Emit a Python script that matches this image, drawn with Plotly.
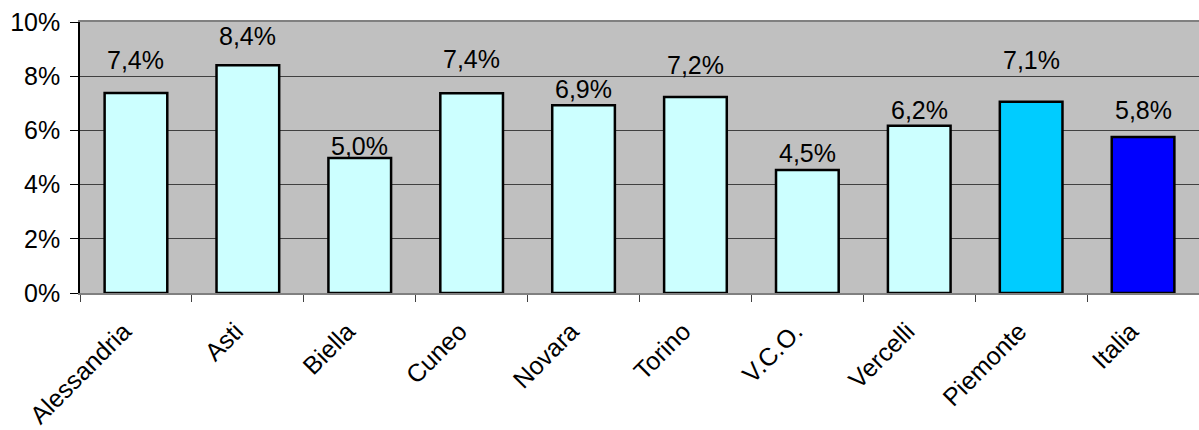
import plotly.graph_objects as go

categories = ["Alessandria", "Asti", "Biella", "Cuneo", "Novara", "Torino",
              "V.C.O.", "Vercelli", "Piemonte", "Italia"]
values = [7.38, 8.40, 4.98, 7.37, 6.93, 7.23, 4.54, 6.17, 7.06, 5.76]
bar_colors = ["#CCFFFF"] * 8 + ["#00CCFF", "#0000FF"]
# per-label vertical offset above bar top (pixels), as in the reference
label_shift = [33, 29, 12, 34, 16, 32, 17, 16, 42, 27]
y_ticks = [0, 2, 4, 6, 8, 10]

FONT = "Liberation Sans, Arial, sans-serif"

fig = go.Figure()
fig.add_trace(go.Bar(
    x=categories, y=values,
    marker=dict(color=bar_colors, line=dict(color="black", width=2.5)),
    width=0.56,
    hoverinfo="skip",
))

for c, v, s in zip(categories, values, label_shift):
    fig.add_annotation(
        x=c, y=v, yshift=s, yanchor="middle",
        text=f"{v:.1f}%".replace(".", ","),
        showarrow=False,
        font=dict(family=FONT, size=25, color="black"),
    )

fig.update_layout(
    width=1199, height=430,
    margin=dict(l=80, r=0, t=22, b=137),
    paper_bgcolor="white",
    plot_bgcolor="#C0C0C0",
    showlegend=False,
    font=dict(family=FONT, size=25, color="black"),
)
fig.update_xaxes(
    automargin=False,
    showline=True, linecolor="#808080", linewidth=1.5, mirror=True,
    ticks="outside", tickson="boundaries", ticklen=7, tickcolor="#404040",
    tickangle=-45, showgrid=False, ticklabelstandoff=12, ticklabelshift=-12,
    tickfont=dict(family=FONT, size=25),
)
fig.update_yaxes(
    automargin=False,
    range=[0, 10], tickvals=y_ticks,
    ticktext=[f"{t}%" for t in y_ticks],
    showline=True, linecolor="black", linewidth=1.5,
    ticks="outside", ticklen=8, tickcolor="black",
    showgrid=True, gridcolor="#404040", gridwidth=1,
    zeroline=False, ticklabelstandoff=5,
    tickfont=dict(family=FONT, size=25),
)

fig.write_html("out.html", config={"displayModeBar": False},
               post_script="document.body.style.margin='0';")
